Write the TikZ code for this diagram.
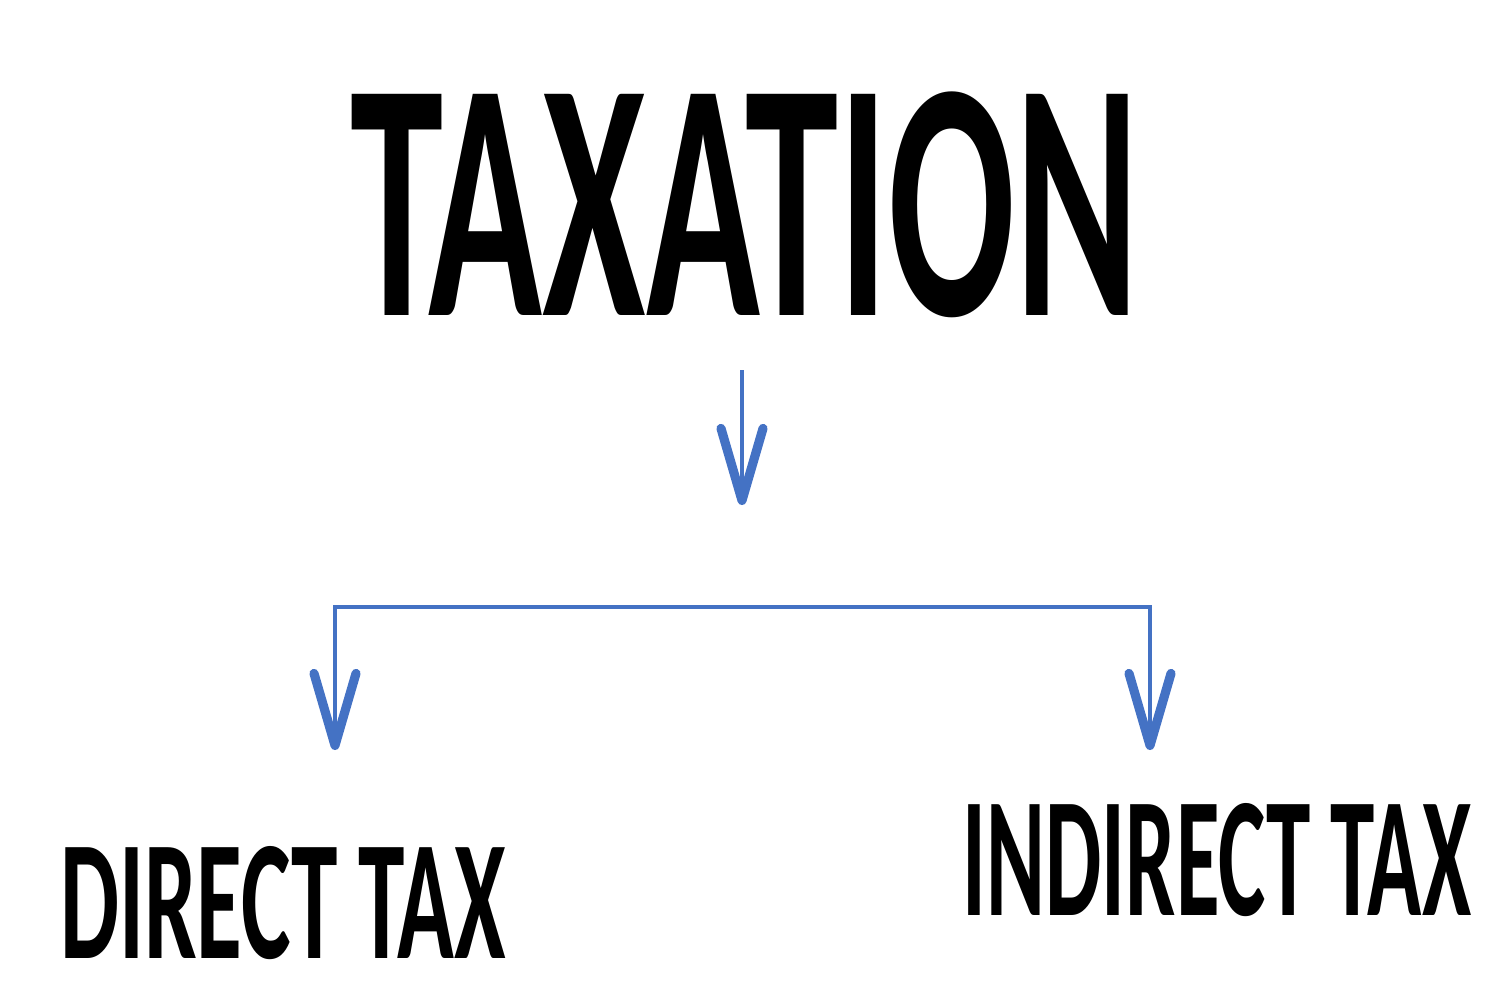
\documentclass[tikz,border=0pt]{standalone}
\usepackage{fontspec}
\setmainfont{Carlito}
\usetikzlibrary{arrows.meta}
\definecolor{linkblue}{RGB}{68,114,196}
\tikzset{
  lbl/.style={anchor=base, inner sep=0pt, text=black, font=\bfseries},
  conn/.style={draw=linkblue, line width=1.1pt,
    -{Straight Barb[length=0.72cm, width=0.42cm, line width=2.6pt, round]}}
}
\begin{document}
\begin{tikzpicture}[x=0.01cm, y=-0.01cm]
\useasboundingbox (0,0) rectangle (1500,1000);
\node[lbl] (tax) at (745,315) {\scalebox{0.551}[1]{\fontsize{97}{100}\selectfont TAXATION}};
\node[lbl] (dir) at (283,958) {\scalebox{0.548}[1]{\fontsize{48.6}{50}\selectfont DIRECT TAX}};
\node[lbl] (ind) at (1217,915) {\scalebox{0.523}[1]{\fontsize{48.6}{50}\selectfont INDIRECT TAX}};
\coordinate (topstart) at (742,370);
\coordinate (topend) at (742,505);
\coordinate (jm) at (742,607);
\coordinate (bl) at (335,750);
\coordinate (br) at (1150,750);
\draw[conn] (topstart) -- (topend);
\draw[conn] (jm) -| (bl);
\draw[conn] (jm) -| (br);
\end{tikzpicture}
\end{document}
